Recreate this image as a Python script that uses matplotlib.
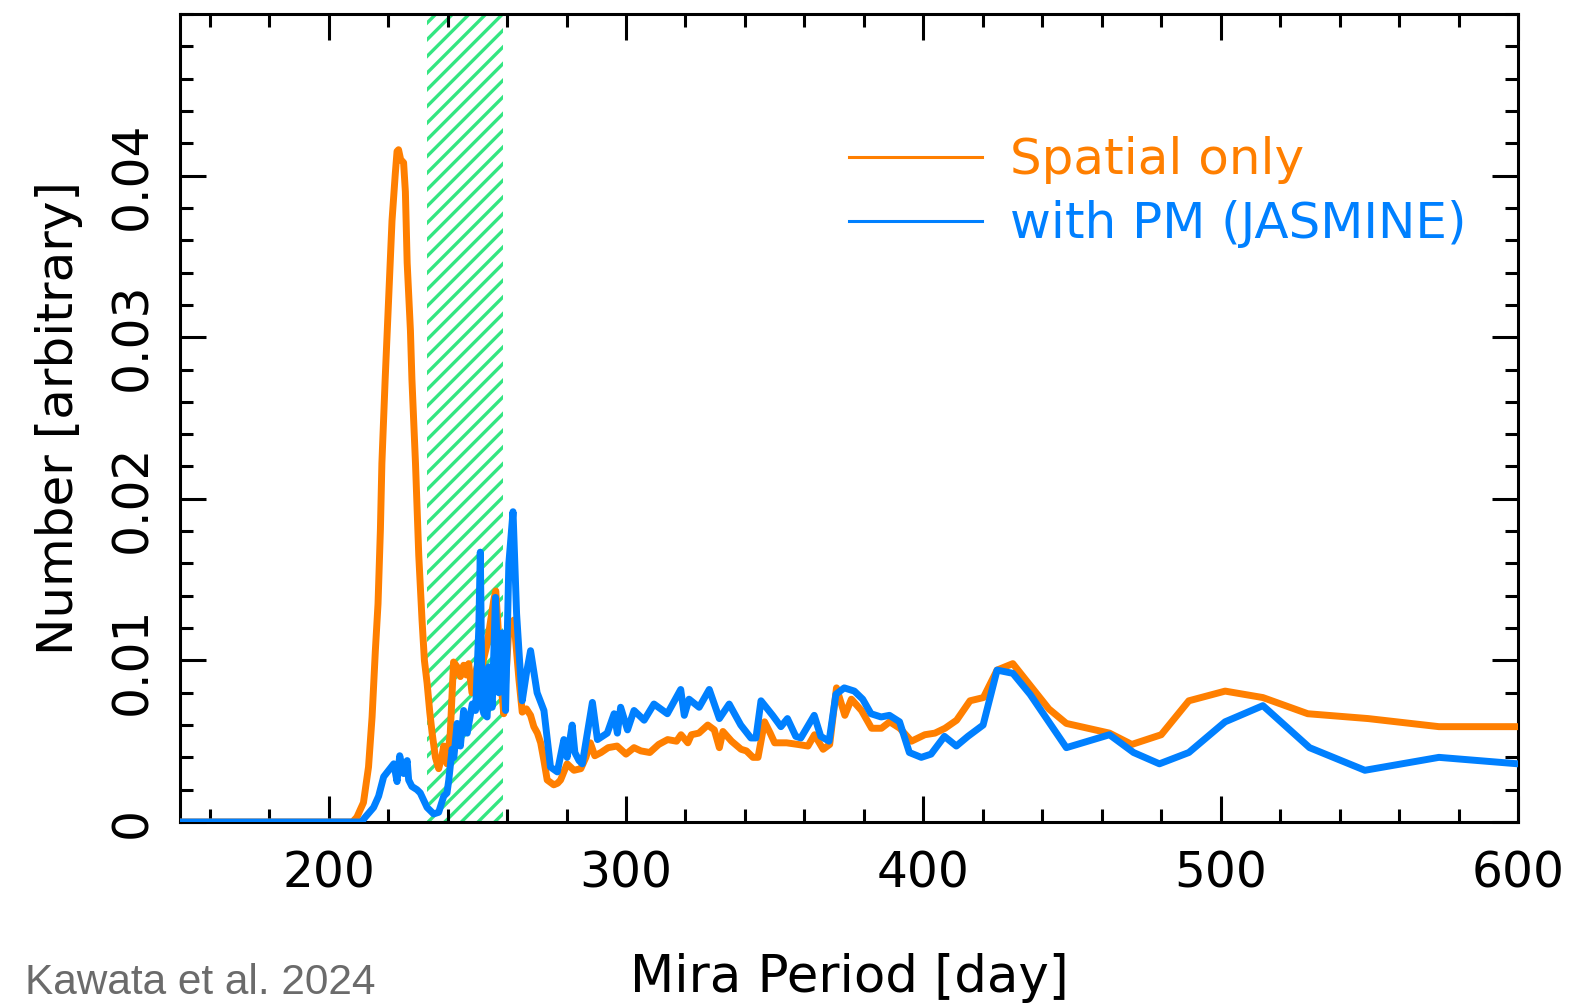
import matplotlib
matplotlib.use('Agg')
import matplotlib.pyplot as plt
from matplotlib.ticker import MultipleLocator, FixedLocator, FuncFormatter
import numpy as np

# Mira period distribution (Kawata et al. 2024)
spatial_period = [150, 208, 209.5, 211.7, 213.4, 214.6, 215.7, 216.6, 217.4, 217.9, 219.0,
                  220.2, 221.3, 222.4, 223.0, 223.5, 224.2, 225.2, 225.8, 226.4, 227.5,
                  228.0, 229.2, 230.3, 231.4, 232.2, 233.1, 234.0, 234.8, 235.9, 237.0,
                  238.0, 238.7, 239.8, 240.9, 242.0, 243.2, 244.3, 245.4, 246.3, 247.1,
                  248.2, 249.9, 251.0, 252.0, 253.3, 254.5, 255.5, 256.2, 257.0, 258.0,
                  258.9, 260.6, 262.3, 264.0, 265.1, 266.5, 267.9, 269.0, 270.2, 271.3,
                  272.4, 273.5, 275.7, 277.0, 278.0, 280.2, 282.5, 284.8, 286.5, 288.0,
                  289.5, 291.6, 294.0, 297.0, 300.0, 302.7, 305.0, 308.0, 311.0, 314.0,
                  317.0, 318.5, 320.8, 322.0, 324.5, 327.5, 329.7, 331.4, 332.6, 335.5,
                  338.7, 340.5, 342.7, 344.4, 346.6, 348.5, 350.0, 354.0, 357.8, 361.2,
                  363.4, 366.3, 368.5, 370.8, 373.6, 375.8, 379.2, 382.6, 385.9, 388.7,
                  392.1, 396.0, 400.5, 403.9, 407.3, 411.2, 415.7, 420.2, 424.8, 430.1,
                  442.2, 448.1, 462.6, 470.1, 480.0, 489.3, 501.5, 514.2, 529.3, 549.6,
                  573.4, 600.0]
spatial_number = [0, 0, 0.0003, 0.0012, 0.0034, 0.0065, 0.0106, 0.0135, 0.0181, 0.0222, 0.0274,
                  0.0325, 0.0372, 0.0401, 0.0415, 0.0416, 0.0410, 0.0408, 0.0390, 0.0346, 0.0304,
                  0.0274, 0.0222, 0.0165, 0.0125, 0.0100, 0.0086, 0.0068, 0.0055, 0.0040, 0.0033,
                  0.0040, 0.0047, 0.0036, 0.0055, 0.0099, 0.0096, 0.0090, 0.0097, 0.0091, 0.0098,
                  0.0080, 0.0096, 0.0089, 0.0100, 0.0110, 0.0125, 0.0137, 0.0143, 0.0120, 0.0085,
                  0.0067, 0.0120, 0.0125, 0.0088, 0.0068, 0.0070, 0.0066, 0.0059, 0.0055, 0.0049,
                  0.0038, 0.0026, 0.0023, 0.0024, 0.0026, 0.0036, 0.0032, 0.0033, 0.0040, 0.0049,
                  0.0041, 0.0043, 0.0046, 0.0047, 0.0042, 0.0046, 0.0044, 0.0043, 0.0048, 0.0051,
                  0.0050, 0.0054, 0.0049, 0.0054, 0.0055, 0.0060, 0.0057, 0.0046, 0.0056, 0.0050,
                  0.0045, 0.0044, 0.0040, 0.0040, 0.0062, 0.0055, 0.0049, 0.0049, 0.0048, 0.0047,
                  0.0054, 0.0045, 0.0048, 0.0083, 0.0066, 0.0076, 0.0069, 0.0058, 0.0058, 0.0062,
                  0.0058, 0.0050, 0.0054, 0.0055, 0.0058, 0.0063, 0.0075, 0.0077, 0.0094, 0.0098,
                  0.0070, 0.0061, 0.0055, 0.0048, 0.0054, 0.0075, 0.0081, 0.0077, 0.0067, 0.0064,
                  0.0059, 0.0059]

pm_period = [150, 211, 212.3, 215.1, 216.8, 218.5, 220.2, 221.9, 223.0, 223.9, 225.2,
             226.4, 226.9, 228.0, 229.7, 230.8, 233.1, 235.3, 237.0, 238.7, 239.8,
             240.4, 241.5, 242.1, 243.2, 244.3, 245.4, 246.6, 248.3, 249.4, 250.5,
             251.0, 251.6, 252.2, 253.3, 253.8, 255.0, 256.1, 257.2, 258.4, 259.5,
             260.6, 262.0, 263.2, 264.2, 265.1, 266.5, 267.9, 270.1, 272.4, 274.6,
             276.9, 279.1, 280.2, 281.9, 282.8, 284.2, 285.3, 288.7, 290.4, 293.7,
             296.0, 297.1, 298.2, 300.5, 302.7, 306.1, 309.4, 313.9, 318.4, 319.6,
             321.2, 324.6, 328.0, 331.4, 334.7, 338.6, 342.0, 343.7, 345.4, 349.3,
             352.1, 354.3, 357.1, 358.8, 363.3, 365.5, 368.3, 370.6, 373.4, 376.8,
             379.6, 382.4, 385.8, 388.6, 392.0, 395.3, 399.3, 402.6, 407.1, 411.1,
             415.0, 420.1, 424.8, 430.1, 435.9, 448.1, 462.6, 470.7, 479.4, 489.3,
             501.5, 514.2, 529.9, 548.5, 573.4, 600.0]
pm_number = [0, 0, 0.0003, 0.0009, 0.0016, 0.0028, 0.0032, 0.0036, 0.0025, 0.0041, 0.0030,
             0.0038, 0.0026, 0.0022, 0.0020, 0.0018, 0.0009, 0.0005, 0.0006, 0.0016, 0.0018,
             0.0026, 0.0045, 0.0040, 0.0061, 0.0047, 0.0069, 0.0055, 0.0073, 0.0069, 0.0120,
             0.0167, 0.0071, 0.0067, 0.0065, 0.0096, 0.0071, 0.0139, 0.0080, 0.0117, 0.0069,
             0.0160, 0.0192, 0.0129, 0.0100, 0.0075, 0.0092, 0.0106, 0.0080, 0.0069, 0.0034,
             0.0031, 0.0051, 0.0040, 0.0060, 0.0043, 0.0038, 0.0036, 0.0074, 0.0051, 0.0055,
             0.0067, 0.0055, 0.0071, 0.0057, 0.0069, 0.0063, 0.0073, 0.0067, 0.0082, 0.0066,
             0.0076, 0.0071, 0.0082, 0.0064, 0.0073, 0.0060, 0.0052, 0.0052, 0.0075, 0.0066,
             0.0059, 0.0064, 0.0053, 0.0052, 0.0066, 0.0053, 0.0050, 0.0079, 0.0083, 0.0081,
             0.0076, 0.0067, 0.0065, 0.0066, 0.0062, 0.0043, 0.0040, 0.0042, 0.0053, 0.0047,
             0.0053, 0.0060, 0.0094, 0.0092, 0.0079, 0.0046, 0.0054, 0.0043, 0.0036, 0.0043,
             0.0062, 0.0072, 0.0046, 0.0032, 0.0040, 0.0036]

band_range = (233.0, 258.5)
y_ticks = [0, 0.01, 0.02, 0.03, 0.04]

ORANGE = '#ff7f00'
BLUE = '#0080ff'
GREEN = '#33e681'
FONT = 'DejaVu Sans'

plt.rcParams['font.family'] = FONT
plt.rcParams['hatch.linewidth'] = 2.4

fig = plt.figure(figsize=(15.88, 10.06), dpi=100)
ax = fig.add_axes([180 / 1588, 1 - 822 / 1006, (1518 - 180) / 1588, (822 - 14) / 1006])

ax.axvspan(*band_range, facecolor='none', edgecolor=GREEN, hatch='//', linewidth=0, zorder=1)

ax.plot(spatial_period, spatial_number, color=ORANGE, lw=5, zorder=3, label='Spatial only')
ax.plot(pm_period, pm_number, color=BLUE, lw=5, zorder=4, label='with PM (JASMINE)')

ax.set_xlim(150, 600)
ax.set_ylim(0, 0.05)

ax.xaxis.set_major_locator(MultipleLocator(100))
ax.xaxis.set_minor_locator(MultipleLocator(20))
ax.yaxis.set_major_locator(FixedLocator(y_ticks))
ax.yaxis.set_minor_locator(MultipleLocator(0.002))
ax.yaxis.set_major_formatter(FuncFormatter(lambda v, p: '0' if abs(v) < 1e-9 else '%.2f' % v))

ax.tick_params(which='both', direction='in', top=True, right=True, width=2.2, color='black')
ax.tick_params(which='major', length=19, labelsize=35)
ax.tick_params(which='minor', length=9.5)
ax.tick_params(axis='x', which='major', pad=20)
ax.tick_params(axis='y', which='major', pad=17, labelrotation=90)
for lab in ax.get_yticklabels():
    lab.set_va('center')

for sp in ax.spines.values():
    sp.set_linewidth(2.2)

ax.set_xlabel('Mira Period [day]', fontsize=37, labelpad=40)
ax.set_ylabel('Number [arbitrary]', fontsize=36, labelpad=18)

leg = ax.legend(loc='upper left', bbox_to_anchor=(849 / 1588, 1 - 136 / 1006),
                bbox_transform=fig.transFigure, frameon=False, fontsize=36,
                handlelength=2.66, handletextpad=0.57, labelspacing=0.32,
                borderpad=0, borderaxespad=0, labelcolor='linecolor')
for line in leg.get_lines():
    line.set_linewidth(2.2)

fig.text(25 / 1588, 1 - 983 / 1006, 'Kawata et al. 2024', fontsize=30.5,
         color='#6b6b6b', family='Liberation Sans', va='center', ha='left')

fig.savefig('out.png', dpi=100, facecolor='white')
